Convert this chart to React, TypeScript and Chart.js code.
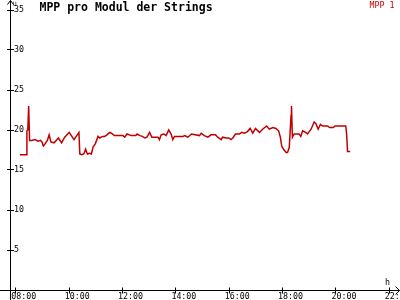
import React, { useEffect, useRef } from "react";
import { Chart, registerables } from "chart.js";

Chart.register(...registerables);

// ---- data ----
const seriesLabel = "MPP 1";
const chartTitle = "MPP pro Modul der Strings";
const yUnit = "U";
const xUnit = "h";

const times = [
  "08:09", "08:24", "08:25", "08:27", "08:29", "08:31", "08:36", "08:43", "08:50", "08:56",
  "08:59", "09:02", "09:05", "09:11", "09:15", "09:19", "09:26", "09:36", "09:43", "09:50",
  "10:00", "10:05", "10:11", "10:17", "10:22", "10:24", "10:28", "10:33", "10:37", "10:41",
  "10:46", "10:50", "10:54", "10:59", "11:05", "11:09", "11:15", "11:20", "11:25", "11:31",
  "11:35", "11:42", "11:50", "12:01", "12:05", "12:10", "12:20", "12:30", "12:33", "12:39",
  "12:45", "12:50", "12:55", "13:01", "13:06", "13:20", "13:23", "13:27", "13:33", "13:38",
  "13:44", "13:50", "13:53", "13:57", "14:16", "14:20", "14:27", "14:35", "14:53", "14:57",
  "15:04", "15:12", "15:19", "15:29", "15:34", "15:42", "15:45", "15:53", "15:59", "16:04",
  "16:08", "16:14", "16:23", "16:28", "16:34", "16:41", "16:47", "16:53", "16:59", "17:08",
  "17:15", "17:24", "17:30", "17:38", "17:45", "17:51", "17:55", "17:58", "18:02", "18:08",
  "18:11", "18:15", "18:19", "18:20", "18:22", "18:26", "18:37", "18:41", "18:45", "18:52",
  "18:56", "19:04", "19:11", "19:15", "19:20", "19:25", "19:30", "19:41", "19:46", "19:54",
  "19:58", "20:22", "20:24", "20:26", "20:32",
];

const mppValues = [
  16.9, 16.9, 19.9, 20.0, 23.0, 18.7, 18.7, 18.8, 18.6, 18.7,
  18.5, 18.0, 18.2, 18.7, 19.4, 18.5, 18.4, 19.0, 18.4, 19.1,
  19.7, 19.3, 18.8, 19.3, 19.7, 17.0, 16.9, 17.0, 17.6, 17.0,
  17.1, 17.0, 17.9, 18.3, 19.2, 19.0, 19.2, 19.2, 19.4, 19.7,
  19.6, 19.3, 19.3, 19.3, 19.1, 19.5, 19.3, 19.3, 19.5, 19.3,
  19.2, 19.0, 19.1, 19.7, 19.1, 19.1, 18.8, 19.4, 19.5, 19.3,
  20.0, 19.4, 18.8, 19.2, 19.2, 19.3, 19.1, 19.5, 19.3, 19.6,
  19.3, 19.1, 19.4, 19.4, 19.1, 18.8, 19.1, 19.0, 19.0, 18.8,
  19.0, 19.5, 19.5, 19.7, 19.6, 19.8, 20.2, 19.6, 20.2, 19.7,
  20.1, 20.5, 20.1, 20.3, 20.2, 19.9, 19.1, 18.0, 17.6, 17.2,
  17.2, 17.8, 21.8, 23.0, 19.1, 19.5, 19.5, 19.2, 19.9, 19.7,
  19.5, 20.1, 21.0, 20.8, 20.1, 20.7, 20.5, 20.5, 20.3, 20.3,
  20.5, 20.5, 19.5, 17.3, 17.3,
];

const xTickLabels = ["08:00", "10:00", "12:00", "14:00", "16:00", "18:00", "20:00", "22:00"];
const yTickValues = [5, 10, 15, 20, 25, 30, 35];

const xRange = ["07:47", "22:24"];
const yRange = [0, 36];

// ---- helpers ----
const toMin = (t: string) => {
  const [h, m] = t.split(":").map(Number);
  return h * 60 + m;
};
const fmt = (v: number) => {
  const h = Math.floor(v / 60);
  const m = Math.round(v - h * 60);
  return String(h).padStart(2, "0") + ":" + String(m).padStart(2, "0");
};

const MONO = '"DejaVu Sans Mono", monospace';
const LINE = "#c00000";

const decor = {
  id: "decor",
  afterDraw(chart: any) {
    const ctx = chart.ctx;
    const xs = chart.scales.x;
    const ys = chart.scales.y;
    const ax = Math.floor(xs.left) + 0.5;
    const ay = Math.floor(ys.getPixelForValue(0)) + 0.5;
    ctx.save();
    ctx.strokeStyle = "#000";
    ctx.lineWidth = 1;
    ctx.beginPath();
    // y axis with arrow
    ctx.moveTo(ax, 300);
    ctx.lineTo(ax, 0.5);
    ctx.moveTo(ax - 3, 4.5);
    ctx.lineTo(ax, 0.5);
    ctx.lineTo(ax + 3, 4.5);
    // x axis with arrow
    ctx.moveTo(0, ay);
    ctx.lineTo(399.5, ay);
    ctx.moveTo(395.5, ay - 4);
    ctx.lineTo(399.5, ay);
    ctx.lineTo(395.5, ay + 4);
    // tick crosses
    for (const t of ys.ticks) {
      if (t.value <= 0) continue;
      const y = Math.floor(ys.getPixelForValue(t.value)) + 0.5;
      ctx.moveTo(ax - 3.5, y);
      ctx.lineTo(ax + 3.5, y);
    }
    for (const t of xs.ticks) {
      const x = Math.floor(xs.getPixelForValue(t.value)) + 0.5;
      ctx.moveTo(x, ay - 3);
      ctx.lineTo(x, ay + 3);
    }
    ctx.stroke();

    ctx.textAlign = "left";
    ctx.textBaseline = "alphabetic";
    ctx.fillStyle = "#000";
    ctx.font = `bold 11.5px ${MONO}`;
    ctx.fillText(chartTitle, 39.5, 11);
    ctx.font = `6px ${MONO}`;
    ctx.fillText(yUnit, 13, 5.5);
    ctx.font = `8.3px ${MONO}`;
    ctx.fillText(xUnit, 385, 284.5);
    ctx.fillStyle = LINE;
    ctx.fillText(chart.data.datasets[0].label, 369.5, 7.5);
    ctx.restore();
  },
};

export default function App() {
  const ref = useRef<HTMLCanvasElement | null>(null);
  useEffect(() => {
    if (!ref.current) return;
    const chart = new Chart(ref.current, {
      type: "line",
      data: {
        datasets: [
          {
            label: seriesLabel,
            data: times.map((t, i) => ({ x: toMin(t), y: mppValues[i] })),
            borderColor: LINE,
            borderWidth: 1.5,
            pointRadius: 0,
            tension: 0,
            fill: false,
          },
        ],
      },
      options: {
        animation: false,
        responsive: false,
        events: [],
        layout: { padding: { top: 2, left: 0, right: 0, bottom: 0 }, autoPadding: false },
        plugins: { legend: { display: false }, tooltip: { enabled: false }, title: { display: false } },
        scales: {
          x: {
            type: "linear",
            position: "bottom",
            min: toMin(xRange[0]),
            max: toMin(xRange[1]),
            grid: { display: false, drawTicks: false, tickLength: 0 },
            border: { display: false },
            afterBuildTicks: (s: any) => {
              s.ticks = xTickLabels.map((l) => ({ value: toMin(l) }));
            },
            afterFit: (s: any) => {
              s.height = 10;
              s.paddingLeft = 0;
              s.paddingRight = 0;
            },
            ticks: {
              autoSkip: false,
              maxRotation: 0,
              minRotation: 0,
              padding: 2,
              labelOffset: 8,
              color: "#000",
              font: { family: MONO, size: 8.3 },
              callback: (v: any) => fmt(Number(v)),
            },
          },
          y: {
            type: "linear",
            position: "left",
            min: yRange[0],
            max: yRange[1],
            grid: { display: false, drawTicks: false, tickLength: 0 },
            border: { display: false },
            afterBuildTicks: (s: any) => {
              s.ticks = yTickValues.map((v) => ({ value: v }));
            },
            afterFit: (s: any) => {
              s.width = 10;
              s.paddingTop = 0;
              s.paddingBottom = 0;
            },
            ticks: {
              mirror: true,
              padding: 4,
              color: "#000",
              font: { family: MONO, size: 8.3 },
              callback: (v: any) => String(v),
            },
          },
        },
      },
      plugins: [decor],
    } as any);
    return () => chart.destroy();
  }, []);
  return (
    <div style={{ position: "fixed", left: 0, top: 0, width: 400, height: 300, background: "#fff" }}>
      <canvas ref={ref} width={400} height={300} style={{ display: "block" }} />
    </div>
  );
}
